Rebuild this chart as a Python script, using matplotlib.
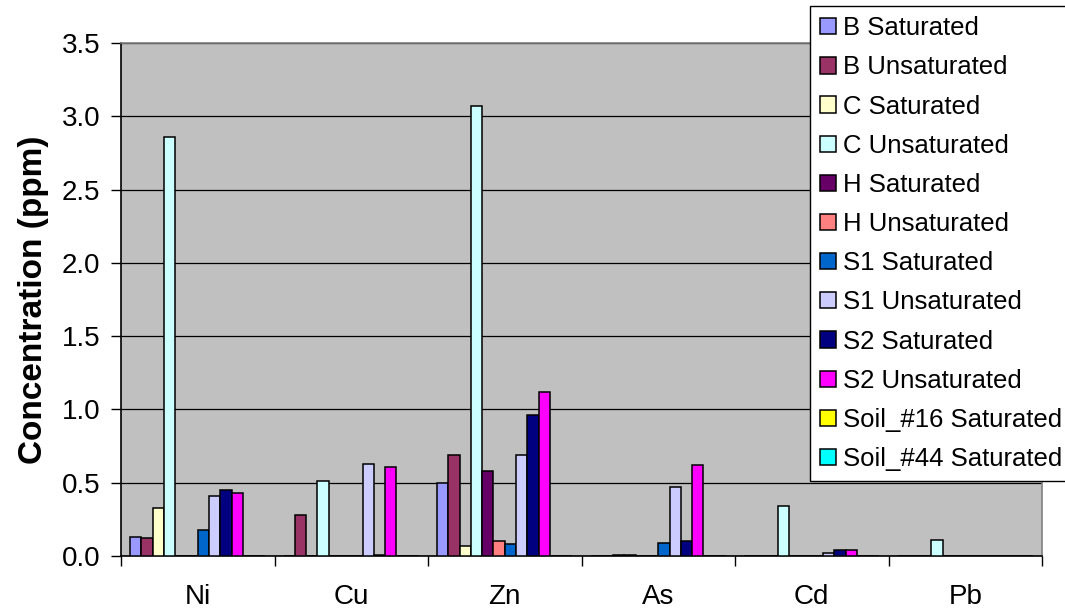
import matplotlib.pyplot as plt
import numpy as np

plt.rcParams['font.family'] = ['Liberation Sans', 'DejaVu Sans']

# Metals on the x axis
metais = ['Ni', 'Cu', 'Zn', 'As', 'Cd', 'Pb']

# One list per sample (ppm), same order as the metals
b_sat = [0.13, 0.00, 0.50, 0.00, 0.00, 0.00]
b_unsat = [0.12, 0.28, 0.69, 0.00, 0.00, 0.00]
c_sat = [0.33, 0.00, 0.07, 0.01, 0.00, 0.00]
c_unsat = [2.86, 0.51, 3.07, 0.01, 0.34, 0.11]
h_sat = [0.00, 0.00, 0.58, 0.00, 0.00, 0.00]
h_unsat = [0.00, 0.00, 0.10, 0.00, 0.00, 0.00]
s1_sat = [0.18, 0.00, 0.08, 0.09, 0.00, 0.00]
s1_unsat = [0.41, 0.63, 0.69, 0.47, 0.02, 0.00]
s2_sat = [0.45, 0.01, 0.96, 0.10, 0.04, 0.00]
s2_unsat = [0.43, 0.61, 1.12, 0.62, 0.04, 0.00]
soil16_sat = [0.00, 0.00, 0.00, 0.00, 0.00, 0.00]
soil44_sat = [0.00, 0.00, 0.00, 0.00, 0.00, 0.00]

series = [
    ('B Saturated', b_sat, '#9999FF'),
    ('B Unsaturated', b_unsat, '#993366'),
    ('C Saturated', c_sat, '#FFFFCC'),
    ('C Unsaturated', c_unsat, '#CCFFFF'),
    ('H Saturated', h_sat, '#660066'),
    ('H Unsaturated', h_unsat, '#FF8080'),
    ('S1 Saturated', s1_sat, '#0066CC'),
    ('S1 Unsaturated', s1_unsat, '#CCCCFF'),
    ('S2 Saturated', s2_sat, '#000080'),
    ('S2 Unsaturated', s2_unsat, '#FF00FF'),
    ('Soil_#16 Saturated', soil16_sat, '#FFFF00'),
    ('Soil_#44 Saturated', soil44_sat, '#00FFFF'),
]

fig = plt.figure(figsize=(10.65, 6.11), dpi=100)
ax = fig.add_axes([121 / 1065, 1 - 556 / 611, (1042 - 121) / 1065, (556 - 43) / 611])
ax.set_facecolor('#C0C0C0')

x = np.arange(len(metais))
n = len(series)
largura = 1 / 13.6

for j, (nome, valores, cor) in enumerate(series):
    ax.bar(x + (j - (n - 1) / 2) * largura, valores, largura, color=cor,
           edgecolor='black', linewidth=1.1, label=nome, zorder=3)

ax.set_xlim(-0.5, len(metais) - 0.5)
ax.set_ylim(0, 3.5)
ax.set_yticks(np.arange(0, 3.51, 0.5))
ax.set_yticklabels([f'{v:.1f}' for v in np.arange(0, 3.51, 0.5)], fontsize=20)
ax.grid(axis='y', color='black', linewidth=0.9, zorder=1)
ax.set_axisbelow(True)

# separadores entre metais como ticks maiores, nomes nos ticks menores
ax.set_xticks(np.arange(-0.5, len(metais), 1))
ax.set_xticklabels([])
ax.set_xticks(x, minor=True)
ax.set_xticklabels(metais, minor=True, fontsize=20)
ax.tick_params(axis='x', which='major', direction='out', length=7, width=1, color='black')
ax.tick_params(axis='x', which='minor', length=0, pad=20)
ax.tick_params(axis='y', direction='out', length=7, width=1, pad=8)

ax.set_ylabel('Concentration (ppm)', fontsize=24, fontweight='bold', labelpad=9)

for lado in ['top', 'right']:
    ax.spines[lado].set_color('#808080')
    ax.spines[lado].set_linewidth(1.2)
for lado in ['left', 'bottom']:
    ax.spines[lado].set_color('black')
    ax.spines[lado].set_linewidth(1.2)

leg = fig.legend(loc='upper left', bbox_to_anchor=(810 / 1065, 1 - 6 / 611),
                 fontsize=18.5, frameon=True, fancybox=False, framealpha=1,
                 edgecolor='black', handlelength=0.6, handleheight=0.6,
                 handletextpad=0.3, labelspacing=0.59, borderpad=0.4,
                 borderaxespad=0)
leg.get_frame().set_linewidth(1.0)

fig.savefig('out.png', dpi=100)
